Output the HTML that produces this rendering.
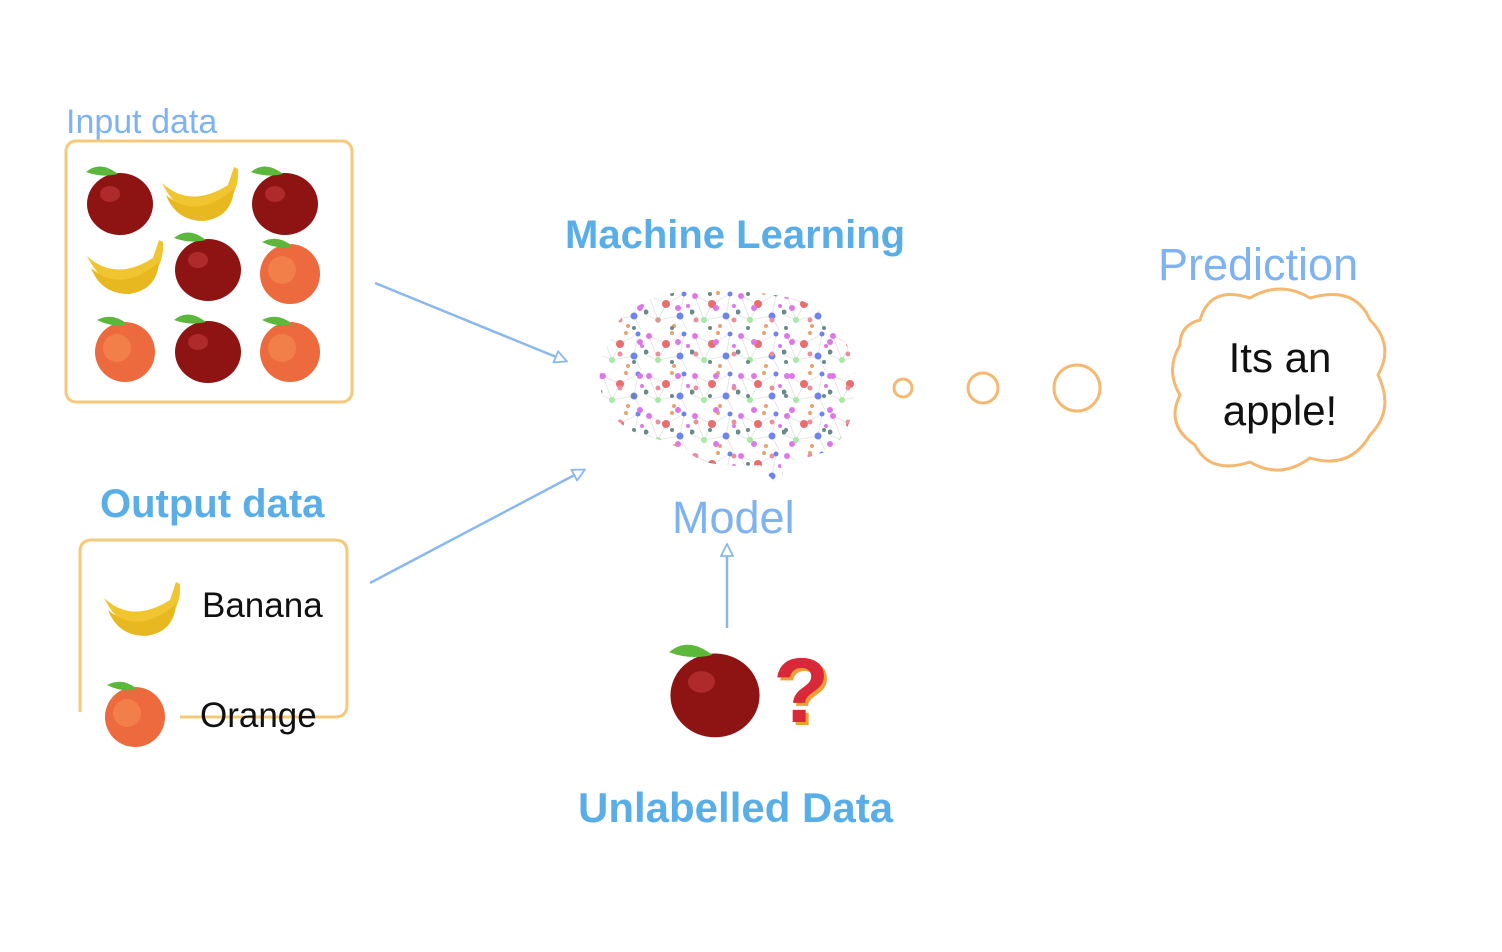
<!DOCTYPE html>
<html><head><meta charset="utf-8"><style>
html,body{margin:0;padding:0;background:#fff;}
svg{display:block;font-family:"Liberation Sans",Arial,sans-serif;}
</style></head><body>
<svg width="1502" height="952" viewBox="0 0 1502 952" xmlns="http://www.w3.org/2000/svg">
<defs>
<g id="apple"><ellipse cx="0" cy="4" rx="33" ry="31" fill="#8e1414"/><ellipse cx="-10" cy="-6" rx="10" ry="8" fill="#c43a3a" opacity=".6"/><path d="M-2-26 Q-20-40-34-28 Q-18-22-2-26Z" fill="#5cb83a"/></g>
<g id="peach"><circle cx="0" cy="4" r="30" fill="#ec6a3e"/><circle cx="-8" cy="0" r="14" fill="#f5894e" opacity=".7"/><path d="M2-24 Q-12-36-28-28 Q-12-20 2-24Z" fill="#5cb83a"/></g>
<g id="banana"><path d="M-38-12 Q-10 14 28-10 L34-28 L38-26 Q40 6 10 18 Q-20 24-38-12Z" fill="#f0c530"/><path d="M-34 0 Q-4 26 34-6 Q32 22 4 26 Q-24 26-34 0Z" fill="#e8b820"/></g>
<marker id="ah" markerWidth="14" markerHeight="14" refX="12" refY="7" orient="auto" markerUnits="userSpaceOnUse"><path d="M1 1 L13 7 L1 13 Z" fill="#fff" stroke="#8ab8ee" stroke-width="1.8"/></marker>
<pattern id="dots" width="46" height="40" patternUnits="userSpaceOnUse" x="598" y="290">
<path d="M5 6 L22 14 L40 4 M22 14 L14 30 L36 26 L40 4 M5 6 L14 30 M36 26 L46 46 M0 24 L14 30" stroke="#dcdcdc" stroke-width="1" fill="none"/>
<circle cx="5" cy="6" r="3" fill="#d040e0"/>
<circle cx="22" cy="14" r="4" fill="#e03030"/>
<circle cx="40" cy="4" r="2.5" fill="#3050e8"/>
<circle cx="14" cy="30" r="3" fill="#80e080"/>
<circle cx="36" cy="26" r="3.5" fill="#3050e8"/>
<circle cx="30" cy="36" r="2" fill="#e07a30"/>
<circle cx="2" cy="22" r="2.5" fill="#2a5a5a"/>
<circle cx="28" cy="3" r="2" fill="#e07a30"/>
<circle cx="44" cy="16" r="2" fill="#d040e0"/>
</pattern>
<pattern id="dots2" width="38" height="34" patternUnits="userSpaceOnUse" x="610" y="300">
<circle cx="10" cy="20" r="2.5" fill="#e06070"/>
<circle cx="30" cy="8" r="3" fill="#d040e0"/>
<circle cx="24" cy="28" r="2" fill="#2a5a5a"/>
</pattern>
</defs>
<text x="66" y="133" font-size="34" fill="#7fb3f0">Input data</text>
<rect x="66" y="141" width="286" height="261" rx="10" fill="none" stroke="#f5c97a" stroke-width="3"/>
<use href="#apple" x="120" y="200"/><use href="#banana" x="200" y="195"/><use href="#apple" x="285" y="200"/>
<use href="#banana" x="125" y="268"/><use href="#apple" x="208" y="266"/><use href="#peach" x="290" y="270"/>
<use href="#peach" x="125" y="348"/><use href="#apple" x="208" y="348"/><use href="#peach" x="290" y="348"/>
<line x1="375" y1="283" x2="566" y2="361" stroke="#8ab8ee" stroke-width="2.5" marker-end="url(#ah)"/>
<line x1="370" y1="583" x2="584" y2="470" stroke="#8ab8ee" stroke-width="2.5" marker-end="url(#ah)"/>
<text x="100" y="517" font-size="40" font-weight="bold" fill="#5aaee8">Output data</text>
<path d="M80 712 L80 552 Q80 540 92 540 L335 540 Q347 540 347 552 L347 705 Q347 717 335 717 L180 717" fill="none" stroke="#f5c97a" stroke-width="3"/>
<use href="#banana" x="142" y="610"/>
<text x="202" y="617" font-size="35" fill="#111">Banana</text>
<use href="#peach" x="135" y="713"/>
<text x="200" y="727" font-size="35" fill="#111">Orange</text>
<text x="565" y="248" font-size="40" font-weight="bold" fill="#5aaee8">Machine Learning</text>
<g opacity=".7">
<path d="M610 340 Q620 300 680 292 Q740 286 800 300 Q850 320 855 380 Q856 430 830 450 Q800 462 780 460 L785 488 Q770 480 760 465 Q720 468 700 460 Q670 440 640 435 Q605 420 600 385 Q598 360 610 340Z" fill="url(#dots)"/>
<path d="M610 340 Q620 300 680 292 Q740 286 800 300 Q850 320 855 380 Q856 430 830 450 Q800 462 780 460 L785 488 Q770 480 760 465 Q720 468 700 460 Q670 440 640 435 Q605 420 600 385 Q598 360 610 340Z" fill="url(#dots2)"/>
</g>
<text x="672" y="533" font-size="45" fill="#7fb3f0">Model</text>
<line x1="727" y1="628" x2="727" y2="545" stroke="#8ab8ee" stroke-width="2.5" marker-end="url(#ah)"/>
<g transform="translate(715,690) scale(1.35)"><use href="#apple"/></g>
<text x="776" y="725" font-size="92" font-weight="bold" fill="#f0a030">?</text>
<text x="773" y="722" font-size="92" font-weight="bold" fill="#d8283a">?</text>
<text x="578" y="822" font-size="42" font-weight="bold" fill="#5aaee8">Unlabelled Data</text>
<g fill="none" stroke="#f5b870" stroke-width="3">
<circle cx="903" cy="388" r="9"/><circle cx="983" cy="388" r="15"/><circle cx="1077" cy="388" r="23"/>
<path d="M1200 320 Q1210 285 1250 298 Q1280 280 1310 298 Q1355 285 1370 320 Q1395 345 1378 375 Q1395 410 1370 435 Q1350 470 1310 458 Q1280 480 1250 462 Q1210 475 1195 445 Q1165 425 1180 395 Q1165 370 1180 345 Q1180 325 1200 320Z"/>
</g>
<text x="1158" y="280" font-size="45" fill="#7fb3f0">Prediction</text>
<text x="1280" y="372" font-size="42" fill="#111" text-anchor="middle">Its an</text>
<text x="1280" y="425" font-size="42" fill="#111" text-anchor="middle">apple!</text>
</svg>
</body></html>
